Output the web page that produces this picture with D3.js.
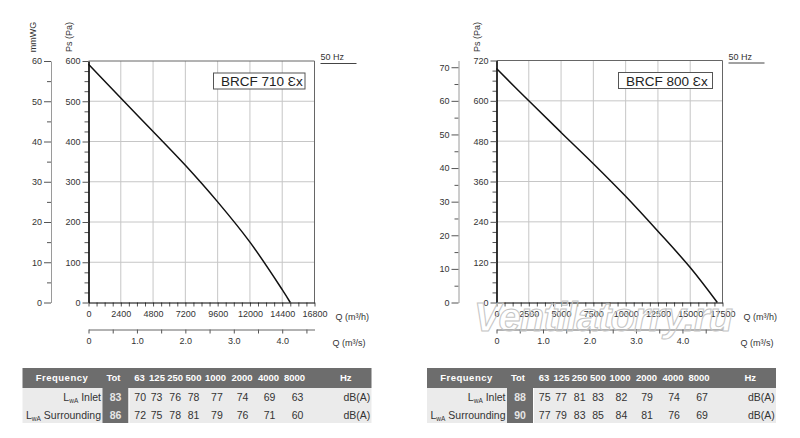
<!DOCTYPE html>
<html>
<head>
<meta charset="utf-8">
<script src="https://cdn.jsdelivr.net/npm/d3@7"></script>
<style>
  body { margin: 0; background: #fff; }
  text { font-family: "Liberation Sans", Arial, sans-serif; }
  .tick text { font-size: 9px; fill: #333; }
  .minor .tick line { stroke: #555; }
  .minor .domain { display: none; }
</style>
</head>
<body>
<div id="chart"></div>
<script>
// Fan curves (Q in m3/h, Ps in Pa)
var leftQ = [0, 2400, 4800, 7200, 9600, 12000, 14400, 15000];
var leftPs = [592, 508, 425, 341, 250, 150, 32, 0];
var rightQ = [0, 2500, 5000, 7500, 10000, 12500, 15000, 17100];
var rightPs = [696, 600, 506, 413, 316, 212, 104, 0];

// Tick labels
var leftQTicks = [0, 2400, 4800, 7200, 9600, 12000, 14400, 16800];
var rightQTicks = [0, 2500, 5000, 7500, 10000, 12500, 15000, 17500];
var leftPsTicks = [0, 100, 200, 300, 400, 500, 600];
var rightPsTicks = [0, 120, 240, 360, 480, 600, 720];
var leftMmTicks = [0, 10, 20, 30, 40, 50, 60];
var rightMmTicks = [0, 10, 20, 30, 40, 50, 60, 70];
var qsTicks = [0, 1, 2, 3, 4];

// Sound table
var freqBands = ["63", "125", "250", "500", "1000", "2000", "4000", "8000"];
var leftTot = [83, 86];
var leftInlet = [70, 73, 76, 78, 77, 74, 69, 63];
var leftSurr = [72, 75, 78, 81, 79, 76, 71, 60];
var rightTot = [88, 90];
var rightInlet = [75, 77, 81, 83, 82, 79, 74, 67];
var rightSurr = [77, 79, 83, 85, 84, 81, 76, 69];

var svg = d3.select("#chart")
  .append("svg")
  .attr("width", 800)
  .attr("height", 438);

function drawChart(o) {
  var g = svg.append("g");

  var x = d3.scaleLinear().domain([0, o.qTicks[o.qTicks.length - 1]]).range([o.left, o.right]);
  var y = d3.scaleLinear().domain([0, o.psTicks[o.psTicks.length - 1]]).range([o.bottom, o.top]);
  var ymm = d3.scaleLinear().domain([0, o.psTicks[o.psTicks.length - 1] / 10]).range([o.bottom, o.top]);
  var xs = d3.scaleLinear().domain([0, x.domain()[1] / 3600]).range([o.left, o.right]);

  var qStep = o.qTicks[1], psStep = o.psTicks[1];

  // grid
  g.selectAll(".vgrid")
    .data(o.qTicks.slice(1, -1))
    .enter().append("line")
    .attr("x1", d => x(d)).attr("x2", d => x(d))
    .attr("y1", o.top).attr("y2", o.bottom)
    .attr("stroke", "#c6c6c6");

  g.selectAll(".hgrid")
    .data(o.psTicks.slice(1, -1))
    .enter().append("line")
    .attr("x1", o.left).attr("x2", o.right)
    .attr("y1", d => y(d)).attr("y2", d => y(d))
    .attr("stroke", "#c6c6c6");

  // frame top / right
  g.append("path")
    .attr("d", "M" + o.left + "," + o.top + "H" + o.right + "V" + o.bottom)
    .attr("fill", "none")
    .attr("stroke", "#666");

  // Ps axis
  var psMinor = d3.range(0, y.domain()[1], psStep / 4).filter(d => d % psStep != 0);
  g.append("g").attr("class", "minor")
    .attr("transform", "translate(" + o.left + ",0)")
    .call(d3.axisLeft(y).tickValues(psMinor).tickSize(4).tickFormat(""));
  var psAxis = g.append("g")
    .attr("transform", "translate(" + o.left + ",0)")
    .call(d3.axisLeft(y).tickValues(o.psTicks).tickSize(6).tickSizeOuter(0).tickPadding(2)
      .tickFormat(d3.format("d")));
  psAxis.select(".domain").attr("stroke", "#000").attr("stroke-width", 1.6);
  psAxis.selectAll(".tick line").attr("stroke", "#555");

  // mmWG axis
  var mmMinor = d3.range(5, ymm.domain()[1], 10);
  g.append("g").attr("class", "minor")
    .attr("transform", "translate(" + o.mmX + ",0)")
    .call(d3.axisLeft(ymm).tickValues(mmMinor).tickSize(4).tickFormat(""));
  var mmAxis = g.append("g")
    .attr("transform", "translate(" + o.mmX + ",0)")
    .call(d3.axisLeft(ymm).tickValues(o.mmTicks).tickSize(7).tickSizeOuter(0).tickPadding(2)
      .tickFormat(d3.format("d")));
  mmAxis.select(".domain").attr("stroke", "#9a9a9a");
  mmAxis.selectAll(".tick line").attr("stroke", "#555");

  // Q m3/h axis
  var qMinor = d3.range(0, x.domain()[1] + 1, qStep / 4);
  g.append("g").attr("class", "minor")
    .attr("transform", "translate(0," + o.bottom + ")")
    .call(d3.axisBottom(x).tickValues(qMinor).tickSize(4).tickFormat(""));
  var qAxis = g.append("g")
    .attr("transform", "translate(0," + o.bottom + ")")
    .call(d3.axisBottom(x).tickValues(o.qTicks).tickSize(0).tickSizeOuter(0).tickPadding(8)
      .tickFormat(d3.format("d")));
  qAxis.select(".domain").attr("stroke", "#000").attr("stroke-width", 1.2);

  // Q m3/s axis
  var sY = o.bottom + 27;
  var qsMinor = d3.range(0, xs.domain()[1], 0.5);
  g.append("g").attr("class", "minor")
    .attr("transform", "translate(0," + sY + ")")
    .call(d3.axisBottom(xs).tickValues(qsMinor).tickSize(4).tickFormat(""));
  var qsAxis = g.append("g")
    .attr("transform", "translate(0," + sY + ")")
    .call(d3.axisBottom(xs).tickValues(qsTicks).tickSize(0).tickSizeOuter(0).tickPadding(8)
      .tickFormat(d => d == 0 ? "0" : d3.format(".1f")(d)));
  qsAxis.select(".domain").attr("stroke", "#666");

  // axis titles
  g.append("text")
    .attr("transform", "translate(" + (o.left - 17) + ",37) rotate(-90)")
    .attr("text-anchor", "middle")
    .style("font-size", "9px").style("fill", "#333")
    .text("Ps (Pa)");
  if (o.mmLabel) {
    g.append("text")
      .attr("transform", "translate(" + (o.mmX - 15) + ",37) rotate(-90)")
      .attr("text-anchor", "middle")
      .style("font-size", "9px").style("fill", "#333")
      .text("mmWG");
  }
  g.append("text")
    .attr("x", o.right + 21).attr("y", o.bottom + 17)
    .style("font-size", "9px").style("fill", "#333")
    .text("Q (m³/h)");
  g.append("text")
    .attr("x", o.right + 18).attr("y", o.bottom + 43)
    .style("font-size", "9px").style("fill", "#333")
    .text("Q (m³/s)");

  // 50 Hz
  g.append("text")
    .attr("x", o.right + 6).attr("y", o.top - 1)
    .style("font-size", "9px").style("fill", "#333")
    .text("50 Hz");
  g.append("line")
    .attr("x1", o.right + 6).attr("x2", o.right + 42)
    .attr("y1", o.top + 2.5).attr("y2", o.top + 2.5)
    .attr("stroke", "#444");

  // curve
  var line = d3.line()
    .x(d => x(d[0]))
    .y(d => y(d[1]))
    .curve(d3.curveCatmullRom);
  g.append("path")
    .datum(d3.zip(o.q, o.ps))
    .attr("d", line)
    .attr("fill", "none")
    .attr("stroke", "#111")
    .attr("stroke-width", 1.5);

  // model box
  g.append("rect")
    .attr("x", o.boxX).attr("y", o.top + 12)
    .attr("width", o.boxW).attr("height", 16)
    .attr("fill", "#fff").attr("stroke", "#555");
  g.append("text")
    .attr("x", o.boxX + 7.5).attr("y", o.top + 25)
    .style("font-size", "13.5px").style("fill", "#222")
    .text(o.model);
}

function drawTable(tx, tot, inlet, surr) {
  var g = svg.append("g").attr("transform", "translate(" + tx + ",0)");
  var W = 349;
  var bandX = [117, 134.5, 152.7, 171, 193, 219.5, 246, 272];
  var valX = [117.7, 134, 152.7, 171, 194.4, 220, 247, 275];

  g.append("rect").attr("x", 0).attr("y", 368).attr("width", W).attr("height", 20).attr("fill", "#6d6d6d");
  g.append("rect").attr("x", 0).attr("y", 388).attr("width", W).attr("height", 35).attr("fill", "#ebebeb");
  g.append("rect").attr("x", 80).attr("y", 388).attr("width", 26).attr("height", 35).attr("fill", "#6d6d6d");
  g.append("line").attr("x1", 106.5).attr("x2", 106.5).attr("y1", 388).attr("y2", 423).attr("stroke", "#fff");

  var head = g.append("g").style("font-size", "9.5px").style("font-weight", "bold").style("fill", "#fff");
  head.append("text").attr("x", 39.5).attr("y", 381).attr("text-anchor", "middle")
    .style("letter-spacing", "0.5px").text("Frequency");
  head.append("text").attr("x", 91).attr("y", 381).attr("text-anchor", "middle").text("Tot");
  head.selectAll(".band").data(freqBands).enter().append("text")
    .attr("x", (d, i) => bandX[i]).attr("y", 381).attr("text-anchor", "middle")
    .text(d => d);
  head.append("text").attr("x", 317.5).attr("y", 381).text("Hz");

  var rows = [
    { name: " Inlet", tot: tot[0], vals: inlet, y: 400.5 },
    { name: " Surrounding", tot: tot[1], vals: surr, y: 418.5 }
  ];

  rows.forEach(function(r) {
    var lab = g.append("text").attr("x", 78.5).attr("y", r.y).attr("text-anchor", "end")
      .style("font-size", "10.5px").style("fill", "#333");
    lab.append("tspan").text("L");
    lab.append("tspan").attr("dy", 2.5).style("font-size", "6.5px").text("wA");
    lab.append("tspan").attr("dy", -2.5).text(r.name);

    g.append("text").attr("x", 93).attr("y", r.y).attr("text-anchor", "middle")
      .style("font-size", "10.5px").style("font-weight", "bold").style("fill", "#e6e6e6")
      .text(r.tot);

    g.selectAll(null).data(r.vals).enter().append("text")
      .attr("x", (d, i) => valX[i]).attr("y", r.y).attr("text-anchor", "middle")
      .style("font-size", "10.5px").style("fill", "#333")
      .text(d => d);

    g.append("text").attr("x", 321).attr("y", r.y)
      .style("font-size", "10.5px").style("fill", "#333")
      .text("dB(A)");
  });
}

drawChart({
  left: 88.5, right: 314.5, top: 61, bottom: 302.5, mmX: 51, mmLabel: true,
  qTicks: leftQTicks, psTicks: leftPsTicks, mmTicks: leftMmTicks,
  q: leftQ, ps: leftPs, model: "BRCF 710 Ɛx", boxX: 213.5, boxW: 91.5
});

drawChart({
  left: 496.5, right: 722.5, top: 60.5, bottom: 302.5, mmX: 458.5, mmLabel: false,
  qTicks: rightQTicks, psTicks: rightPsTicks, mmTicks: rightMmTicks,
  q: rightQ, ps: rightPs, model: "BRCF 800 Ɛx", boxX: 618.5, boxW: 94
});

drawTable(22.5, leftTot, leftInlet, leftSurr);
drawTable(427, rightTot, rightInlet, rightSurr);

// watermark
svg.append("text")
  .attr("x", 474).attr("y", 331)
  .attr("textLength", 259)
  .style("font-size", "40px").style("font-style", "italic").style("font-weight", "bold")
  .style("fill", "none").style("stroke", "#c4c4c4").style("stroke-width", 1)
  .text("Ventilatorry.ru");
</script>
</body>
</html>
